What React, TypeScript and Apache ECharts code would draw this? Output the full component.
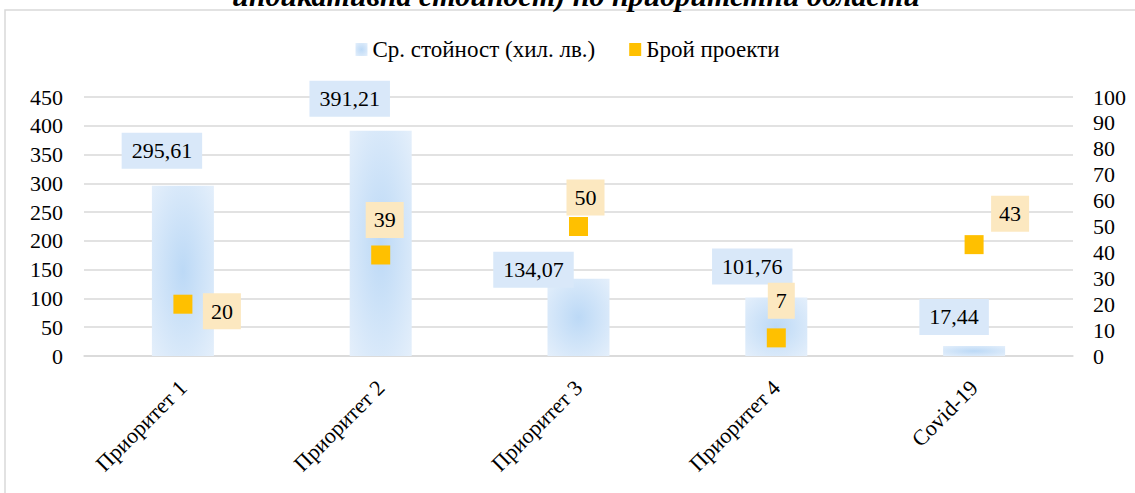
import React, { useEffect, useRef } from "react";
import * as echarts from "echarts";

const categories = ["Приоритет 1", "Приоритет 2", "Приоритет 3", "Приоритет 4", "Covid-19"];
const avgValues = [295.61, 391.21, 134.07, 101.76, 17.44];
const projectCounts = [20, 39, 50, 7, 43];
const leftAxis = { min: 0, max: 450, interval: 50 };
const rightAxis = { min: 0, max: 100, interval: 10 };
const seriesNames = ["Ср. стойност (хил. лв.)", "Брой проекти"];
const titleText = "индикативна стойност) по приоритетни области";

// layout only: manual label displacement (px) as in the reference
const barLabelOffsets = [[-21, -12], [-31, -9], [-45, 14], [-24, -8], [-20, -6]];
const scatterLabelOffsets = [[39, 7], [4, -35], [7, -29], [5, -37], [36, -31]];

const FONT = "Liberation Serif";
const FS = 22;

export default function App() {
  const ref = useRef<HTMLDivElement>(null);
  useEffect(() => {
    if (!ref.current) return;
    const chart = echarts.init(ref.current, null, { renderer: "svg" });
    const barColor = {
      type: "radial",
      x: 0.5,
      y: 0.5,
      r: 0.7,
      colorStops: [
        { offset: 0, color: "#BCD9F6" },
        { offset: 1, color: "#E4EFFB" },
      ],
    };
    chart.setOption({
      animation: false,
      textStyle: { fontFamily: FONT, color: "#000" },
      graphic: [
        {
          type: "rect",
          shape: { x: 5, y: 10, width: 1160, height: 520 },
          style: { fill: "none", stroke: "#D9D9D9", lineWidth: 1.5 },
          silent: true,
        },
        {
          type: "text",
          x: 576,
          y: 10,
          style: {
            text: titleText,
            fontFamily: FONT,
            fontSize: 30,
            fontStyle: "italic",
            fontWeight: "bold",
            fill: "#000",
            align: "center",
            verticalAlign: "bottom",
          },
        },
      ],
      legend: {
        top: 33,
        left: "center",
        itemWidth: 12,
        itemHeight: 13,
        itemGap: 34,
        textStyle: { fontSize: 23, fontFamily: FONT, color: "#000" },
        data: [
          { name: seriesNames[0], icon: "rect" },
          { name: seriesNames[1], icon: "rect" },
        ],
      },
      grid: { left: 84, right: 62, top: 97, bottom: 137, containLabel: false },
      xAxis: {
        type: "category",
        data: categories,
        axisLine: { show: true, lineStyle: { color: "#D9D9D9", width: 1.5 } },
        axisTick: { show: false },
        axisLabel: { rotate: 45, fontSize: FS, fontFamily: FONT, color: "#000", margin: 28 },
      },
      yAxis: [
        {
          type: "value",
          min: leftAxis.min,
          max: leftAxis.max,
          interval: leftAxis.interval,
          axisLine: { show: false },
          axisTick: { show: false },
          axisLabel: { fontSize: FS, fontFamily: FONT, color: "#000", margin: 21 },
          splitLine: { show: true, lineStyle: { color: "#D9D9D9", width: 1.5 } },
        },
        {
          type: "value",
          min: rightAxis.min,
          max: rightAxis.max,
          interval: rightAxis.interval,
          position: "right",
          axisLine: { show: false },
          axisTick: { show: false },
          axisLabel: { fontSize: FS, fontFamily: FONT, color: "#000", margin: 20 },
          splitLine: { show: false },
        },
      ],
      series: [
        {
          name: seriesNames[0],
          type: "bar",
          barWidth: 62,
          yAxisIndex: 0,
          itemStyle: { color: barColor },
          data: avgValues.map((v, i) => ({
            value: v,
            label: { offset: barLabelOffsets[i] },
          })),
          label: {
            show: true,
            position: "top",
            distance: 5,
            fontSize: FS,
            fontFamily: FONT,
            color: "#000",
            backgroundColor: "#D9E8F9",
            padding: [7, 10, 7, 10],
            formatter: (p: any) => p.value.toFixed(2).replace(".", ","),
          },
          z: 2,
        },
        {
          name: seriesNames[1],
          type: "scatter",
          yAxisIndex: 1,
          symbol: "rect",
          symbolSize: 19,
          itemStyle: { color: "#FFC000", opacity: 1 },
          data: projectCounts.map((v, i) => ({
            value: v,
            label: { offset: scatterLabelOffsets[i] },
          })),
          label: {
            show: true,
            position: "inside",
            fontSize: FS,
            fontFamily: FONT,
            color: "#000",
            backgroundColor: "#FCE8C0",
            padding: [7, 8, 7, 8],
            formatter: (p: any) => String(p.value),
          },
          z: 3,
        },
      ],
    });
    return () => chart.dispose();
  }, []);
  return (
    <div
      ref={ref}
      style={{ position: "absolute", left: 0, top: 0, width: 1135, height: 493, background: "#fff" }}
    />
  );
}
